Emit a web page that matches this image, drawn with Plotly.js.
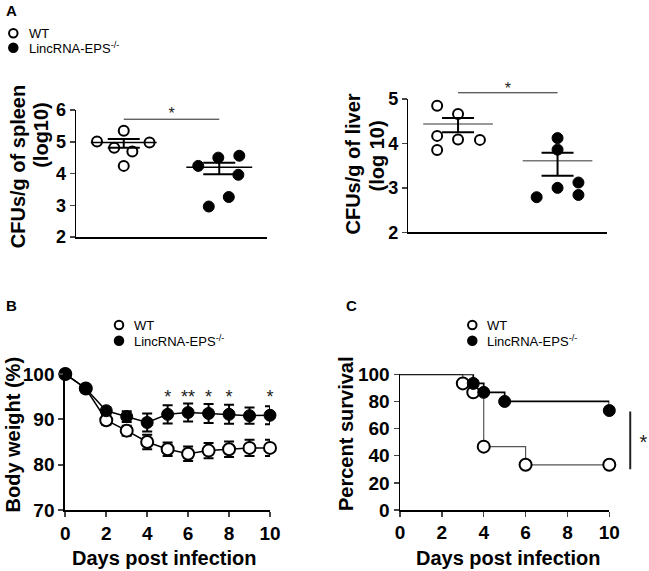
<!DOCTYPE html>
<html><head><meta charset="utf-8">
<script src="https://cdn.plot.ly/plotly-3.0.1.min.js"></script>
<style>html,body{margin:0;padding:0;background:#fff}#chart{width:649px;height:571px}</style>
</head><body><div id="chart"></div>
<script>
// ---------- Panel A : CFUs (log10) ----------
const groupPos = [1, 2];                 // WT, LincRNA-EPS-/-
const spleenWTx = [0.72, 1.0, 1.27, 0.90, 1.09, 1.0];
const spleenWT  = [5.01, 5.35, 4.98, 4.81, 4.69, 4.24];
const spleenKOx = [1.78, 1.99, 2.21, 2.20, 2.10, 1.89];
const spleenKO  = [4.24, 4.50, 4.56, 3.96, 3.26, 2.96];
const spleenMean = [4.98, 4.20];
const spleenHi   = [5.09, 4.34];
const spleenLo   = [4.81, 3.98];
const spleenSig  = 5.71, spleenStar = 5.84;

const liverWTx = [0.79, 1.0, 0.79, 1.0, 1.22, 0.79];
const liverWT  = [4.85, 4.66, 4.17, 4.09, 4.08, 3.85];
const liverKOx = [2.0, 2.0, 2.0, 2.21, 2.21, 1.79];
const liverKO  = [4.12, 3.86, 3.00, 3.12, 2.84, 2.79];
const liverMean = [4.44, 3.61];
const liverHi   = [4.57, 3.79];
const liverLo   = [4.25, 3.27];
const liverSig  = 5.14, liverStar = 5.21;

// ---------- Panel B : body weight ----------
const days = [0,1,2,3,4,5,6,7,8,9,10];
const bwWT    = [100, 96.8, 89.8, 87.5, 85.0, 83.4, 82.4, 83.1, 83.4, 83.7, 83.7];
const bwWTerr = [0, 0, 1.0, 1.1, 1.6, 1.5, 1.6, 1.7, 1.7, 1.8, 1.8];
const bwKO    = [100, 96.8, 91.9, 90.6, 89.3, 91.1, 91.5, 91.3, 91.1, 90.8, 90.9];
const bwKOerr = [0, 0, 0.8, 1.2, 2.0, 2.0, 2.0, 2.1, 2.1, 1.8, 2.0];
const starDays   = [5, 6, 7, 8, 10];
const starLabels = ['*', '**', '*', '*', '*'];
const starLevel  = 94.6;

// ---------- Panel C : survival ----------
const survWTx = [0, 3, 3.5, 4, 6, 10];
const survWT  = [100, 93.3, 86.7, 46.7, 33.3, 33.3];
const survKOx = [0, 3.5, 4, 5, 10];
const survKO  = [100, 93.3, 86.7, 80, 73.3];
const survSigX = 11, survSigY = [30, 72.5], survStar = [11.63, 48.5];

const labels = ['WT', 'LincRNA-EPS<sup>-/-</sup>'];

// ---------- helpers ----------
const FAM = 'Liberation Sans, Arial, Helvetica, sans-serif';
const W = 649, H = 571;
const px = v => v / W, py = v => 1 - v / H;
const openM = s => ({symbol: 'circle', size: s, color: 'white', line: {color: 'black', width: 2}});
const fillM = s => ({symbol: 'circle', size: s, color: 'black', line: {color: 'black', width: 1}});

function meanLines(means, hw, xa, ya, color, width) {
  const x = [], y = [];
  means.forEach((m, i) => { x.push(groupPos[i] - hw, groupPos[i] + hw, null); y.push(m, m, null); });
  return {x, y, xaxis: xa, yaxis: ya, mode: 'lines', line: {color, width}, hoverinfo: 'skip', showlegend: false};
}
function semBars(means, hi, lo, xa, ya) {
  return {x: groupPos, y: means, xaxis: xa, yaxis: ya, mode: 'markers',
    marker: {size: 1, color: 'rgba(0,0,0,0)'}, showlegend: false, hoverinfo: 'skip',
    error_y: {type: 'data', symmetric: false,
      array: hi.map((h, i) => h - means[i]), arrayminus: lo.map((l, i) => means[i] - l),
      width: 16, thickness: 2, color: 'black'}};
}

const traces = [
  // A left
  {x: spleenWTx, y: spleenWT, xaxis: 'x', yaxis: 'y', mode: 'markers', marker: openM(10), cliponaxis: false, showlegend: false},
  {x: spleenKOx, y: spleenKO, xaxis: 'x', yaxis: 'y', mode: 'markers', marker: fillM(11), cliponaxis: false, showlegend: false},
  meanLines(spleenMean, 0.345, 'x', 'y', 'black', 1.5),
  semBars(spleenMean, spleenHi, spleenLo, 'x', 'y'),
  {x: groupPos, y: [spleenSig, spleenSig], xaxis: 'x', yaxis: 'y', mode: 'lines', line: {color: '#222', width: 1}, showlegend: false},
  {x: [1.5], y: [spleenStar], xaxis: 'x', yaxis: 'y', mode: 'text', text: ['*'], textfont: {family: FAM, size: 16, color: '#222'}, cliponaxis: false, showlegend: false},
  // A right
  {x: liverWTx, y: liverWT, xaxis: 'x2', yaxis: 'y2', mode: 'markers', marker: openM(10), cliponaxis: false, showlegend: false},
  {x: liverKOx, y: liverKO, xaxis: 'x2', yaxis: 'y2', mode: 'markers', marker: fillM(11), cliponaxis: false, showlegend: false},
  meanLines(liverMean, 0.35, 'x2', 'y2', '#777', 1.5),
  semBars(liverMean, liverHi, liverLo, 'x2', 'y2'),
  {x: groupPos, y: [liverSig, liverSig], xaxis: 'x5', yaxis: 'y5', mode: 'lines', line: {color: '#222', width: 1}, showlegend: false},
  {x: [1.5], y: [liverStar], xaxis: 'x5', yaxis: 'y5', mode: 'text', text: ['*'], textfont: {family: FAM, size: 16, color: '#222'}, cliponaxis: false, showlegend: false},
  // B
  {x: days, y: bwWT, xaxis: 'x3', yaxis: 'y3', mode: 'lines+markers', line: {color: 'black', width: 1.5},
   marker: openM(12), error_y: {type: 'data', array: bwWTerr, width: 5, thickness: 2, color: 'black'}, cliponaxis: false, showlegend: false},
  {x: days, y: bwKO, xaxis: 'x3', yaxis: 'y3', mode: 'lines+markers', line: {color: 'black', width: 1.5},
   marker: fillM(12), error_y: {type: 'data', array: bwKOerr, width: 5, thickness: 2, color: 'black'}, cliponaxis: false, showlegend: false},
  {x: starDays, y: starDays.map(() => starLevel), xaxis: 'x3', yaxis: 'y3', mode: 'text', text: starLabels,
   textfont: {family: FAM, size: 18, color: '#222'}, cliponaxis: false, showlegend: false},
  // C
  {x: survWTx, y: survWT, xaxis: 'x4', yaxis: 'y4', mode: 'lines', line: {color: '#555', width: 1.2, shape: 'hv'}, cliponaxis: false, showlegend: false},
  {x: survKOx, y: survKO, xaxis: 'x4', yaxis: 'y4', mode: 'lines', line: {color: 'black', width: 1.7, shape: 'hv'}, cliponaxis: false, showlegend: false},
  {x: survWTx.slice(1), y: survWT.slice(1), xaxis: 'x4', yaxis: 'y4', mode: 'markers', marker: openM(12), cliponaxis: false, showlegend: false},
  {x: survKOx.slice(1), y: survKO.slice(1), xaxis: 'x4', yaxis: 'y4', mode: 'markers', marker: fillM(12), cliponaxis: false, showlegend: false},
  {x: [survSigX, survSigX], y: survSigY, xaxis: 'x6', yaxis: 'y6', mode: 'lines', line: {color: '#222', width: 2}, showlegend: false},
  {x: [survStar[0]], y: [survStar[1]], xaxis: 'x6', yaxis: 'y6', mode: 'text', text: ['*'], textfont: {family: FAM, size: 20, color: '#222'}, cliponaxis: false, showlegend: false}
];

const tickA = {family: FAM, size: 18, color: 'black', weight: 'bold'};
const tickB = {family: FAM, size: 19, color: 'black', weight: 'bold'};
const baseAx = {showgrid: false, zeroline: false, showline: true, linecolor: 'black', fixedrange: true};
const hidden = {visible: false, showgrid: false, zeroline: false, fixedrange: true};

const layout = {
  width: W, height: H, margin: {l: 0, r: 0, t: 0, b: 0},
  paper_bgcolor: 'white', plot_bgcolor: 'rgba(0,0,0,0)', showlegend: false,
  font: {family: FAM, color: 'black'},
  // A left
  xaxis:  Object.assign({}, baseAx, {domain: [px(76), px(267)], range: [0.5, 2.5], anchor: 'y', linewidth: 1.5, showticklabels: false, ticks: '', tickvals: []}),
  yaxis:  Object.assign({}, baseAx, {domain: [py(237), py(110)], range: [2, 6], anchor: 'x', linewidth: 1.5, tickvals: [2,3,4,5,6], ticks: 'outside', ticklen: 5, tickwidth: 1.5, tickfont: tickA}),
  // A right
  xaxis2: Object.assign({}, baseAx, {domain: [px(408.3), px(607.3)], range: [0.5, 2.5], anchor: 'y2', linewidth: 1.5, showticklabels: false, ticks: '', tickvals: []}),
  yaxis2: Object.assign({}, baseAx, {domain: [py(232.3), py(99)], range: [2, 5], anchor: 'x2', linewidth: 1.5, tickvals: [2,3,4,5], ticks: 'outside', ticklen: 5, tickwidth: 1.5, tickfont: tickA}),
  // B
  xaxis3: Object.assign({}, baseAx, {domain: [px(65.3), px(270)], range: [0, 10], anchor: 'y3', linewidth: 2, tickvals: [0,2,4,6,8,10], ticks: 'outside', ticklen: 5, tickwidth: 2, tickfont: tickB}),
  yaxis3: Object.assign({}, baseAx, {domain: [py(510), py(374)], range: [70, 100], anchor: 'x3', linewidth: 2, tickvals: [70,80,90,100], ticks: 'outside', ticklen: 5, tickwidth: 2, tickfont: tickB}),
  // C
  xaxis4: Object.assign({}, baseAx, {domain: [px(400), px(609.3)], range: [0, 10], anchor: 'y4', linewidth: 1.5, tickvals: [0,2,4,6,8,10], ticks: 'outside', ticklen: 5, tickwidth: 1.5, tickfont: tickB}),
  yaxis4: Object.assign({}, baseAx, {domain: [py(510), py(374.3)], range: [0, 100], anchor: 'x4', linewidth: 1.5, tickvals: [0,20,40,60,80,100], ticks: 'outside', ticklen: 5, tickwidth: 1.5, tickfont: tickB}),
  // overlays for brackets
  xaxis5: Object.assign({}, hidden, {domain: [px(408.3), px(607.3)], range: [0.5, 2.5], anchor: 'y5'}),
  yaxis5: Object.assign({}, hidden, {domain: [py(232.3), py(99 - 0.3 * 44.43)], range: [2, 5.3], anchor: 'x5'}),
  xaxis6: Object.assign({}, hidden, {domain: [px(400), px(400 + 11.8 * 20.93)], range: [0, 11.8], anchor: 'y6'}),
  yaxis6: Object.assign({}, hidden, {domain: [py(510), py(374.3)], range: [0, 100], anchor: 'x6'}),
  annotations: [],
  shapes: []
};

const ann = (text, x, y, o) => layout.annotations.push(Object.assign({text, x: px(x), y: py(y), xref: 'paper', yref: 'paper', showarrow: false}, o));
const bold = (s) => ({family: FAM, size: s, color: 'black', weight: 'bold'});

// panel letters
ann('A', 4, 10, {xanchor: 'left', yanchor: 'middle', font: bold(15)});
ann('B', 4, 305, {xanchor: 'left', yanchor: 'middle', font: bold(15)});
ann('C', 344, 305, {xanchor: 'left', yanchor: 'middle', font: bold(15)});

// axis titles
ann('CFUs/g of spleen', 17.5, 166.7, {textangle: -90, xanchor: 'center', yanchor: 'middle', font: bold(20)});
ann('(log10)', 40.8, 135, {textangle: -90, xanchor: 'center', yanchor: 'middle', font: bold(20)});
ann('CFUs/g of liver', 353.3, 164.2, {textangle: -90, xanchor: 'center', yanchor: 'middle', font: bold(20)});
ann('(log 10)', 376.7, 155.8, {textangle: -90, xanchor: 'center', yanchor: 'middle', font: bold(20)});
ann('Body weight (%)', 12.5, 435, {textangle: -90, xanchor: 'center', yanchor: 'middle', font: bold(20)});
ann('Percent survival', 346, 434, {textangle: -90, xanchor: 'center', yanchor: 'middle', font: bold(20)});
ann('Days post infection', 164.3, 558, {xanchor: 'center', yanchor: 'middle', font: bold(20)});
ann('Days post infection', 508.3, 558, {xanchor: 'center', yanchor: 'middle', font: bold(20)});

// legends
function legend(cx, y0, y1, tx, d) {
  [[y0, false], [y1, true]].forEach(([yy, filled], i) => {
    layout.shapes.push({type: 'circle', xref: 'paper', yref: 'paper', xsizemode: 'pixel', ysizemode: 'pixel',
      xanchor: px(cx), yanchor: py(yy), x0: -d / 2, x1: d / 2, y0: -d / 2, y1: d / 2,
      line: {color: 'black', width: 2}, fillcolor: filled ? 'black' : 'white'});
    ann(labels[i], tx, yy, {xanchor: 'left', yanchor: 'middle', font: {family: FAM, size: 13, color: 'black'}});
  });
}
legend(13.3, 33.3, 47.7, 26.5, 8.5);
legend(119, 325, 340.7, 131.5, 8.5);
legend(472.3, 325, 340.7, 485, 8.5);

Plotly.newPlot('chart', traces, layout, {staticPlot: true});
</script></body></html>
